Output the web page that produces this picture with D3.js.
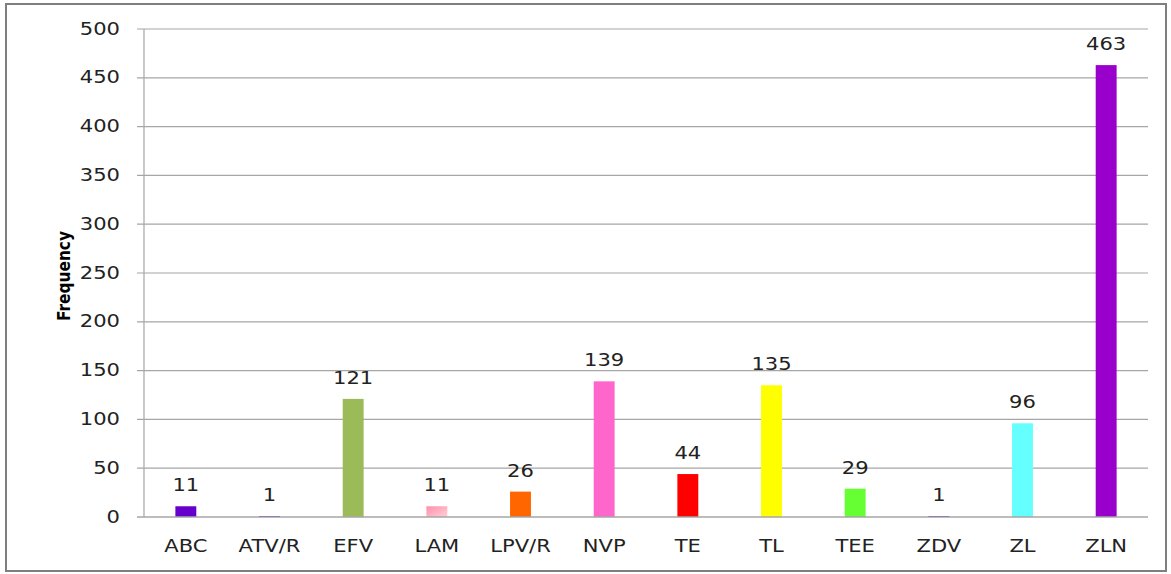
<!DOCTYPE html>
<html><head><meta charset="utf-8">
<script src="https://cdn.jsdelivr.net/npm/d3@7"></script>
<style>body{margin:0;background:#fff}svg{display:block}text{font-family:"DejaVu Sans",sans-serif}</style>
</head><body><svg id="c" width="1171" height="574"></svg>
<script>
const categories = ["ABC","ATV/R","EFV","LAM","LPV/R","NVP","TE","TL","TEE","ZDV","ZL","ZLN"];
const values = [11,1,121,11,26,139,44,135,29,1,96,463];
const colors = ["#6600CC","#6600CC","#9BBB59","#FFA0B4","#FF6600","#FF66CC","#FF0000","#FFFF00","#66FF33","#6600CC","#66FFFF","#9900CC"];
const yTicks = [0,50,100,150,200,250,300,350,400,450,500];
const yLabel = "Frequency";

const SX = 1.24;
const svg = d3.select("#c");
svg.append("rect").attr("x",6).attr("y",4).attr("width",1160).attr("height",567)
  .attr("fill","#fff").attr("stroke","#7f7f7f").attr("stroke-width",2);

const defs = svg.append("defs");
const g1 = defs.append("linearGradient").attr("id","lamg").attr("x1","0").attr("y1","0").attr("x2","1").attr("y2","1");
g1.append("stop").attr("offset","0").attr("stop-color","#FF8FA8");
g1.append("stop").attr("offset","1").attr("stop-color","#FFD0DA");

const x = d3.scaleBand().domain(categories).range([144,1148]).paddingInner(0.75).paddingOuter(0.375);
const y = d3.scaleLinear().domain([0,500]).range([517,29]);

// gridlines
svg.append("g").selectAll("line").data(yTicks.filter(d=>d>0)).join("line")
  .attr("x1",137).attr("x2",1148).attr("y1",d=>y(d)).attr("y2",d=>y(d))
  .attr("stroke","#a6a6a6").attr("stroke-width",1.2);
// y axis line
svg.append("line").attr("x1",144).attr("x2",144).attr("y1",y(500)).attr("y2",y(0))
  .attr("stroke","#a6a6a6").attr("stroke-width",1.2);

svg.append("g").selectAll("text").data(yTicks).join("text")
  .attr("transform",d=>`translate(120,${y(d)+5.5}) scale(${SX},1)`)
  .attr("text-anchor","end").attr("font-size",17).attr("fill","#222").text(d=>d);

svg.append("g").selectAll("rect").data(categories).join("rect")
  .attr("x",d=>x(d)).attr("width",x.bandwidth())
  .attr("y",(d,i)=>y(values[i])).attr("height",(d,i)=>y(0)-y(values[i]))
  .attr("fill",(d,i)=>d==="LAM"?"url(#lamg)":colors[i]);

// baseline over bars
svg.append("line").attr("x1",137).attr("x2",1148).attr("y1",y(0)).attr("y2",y(0))
  .attr("stroke","#a6a6a6").attr("stroke-width",1.6);

svg.append("g").selectAll("text").data(categories).join("text")
  .attr("transform",(d,i)=>`translate(${x(d)+x.bandwidth()/2},${y(values[i])-15}) scale(${SX},1)`)
  .attr("text-anchor","middle").attr("font-size",17).attr("fill","#222")
  .text((d,i)=>values[i]);

svg.append("g").selectAll("text").data(categories).join("text")
  .attr("transform",d=>`translate(${x(d)+x.bandwidth()/2},552) scale(${SX},1)`)
  .attr("text-anchor","middle").attr("font-size",17).attr("fill","#222").text(d=>d);

svg.append("text").attr("transform","translate(70,276) rotate(-90) scale(0.88,1)")
  .attr("text-anchor","middle").attr("font-size",17.5).attr("font-weight","bold")
  .attr("fill","#000").text(yLabel);
</script></body></html>
